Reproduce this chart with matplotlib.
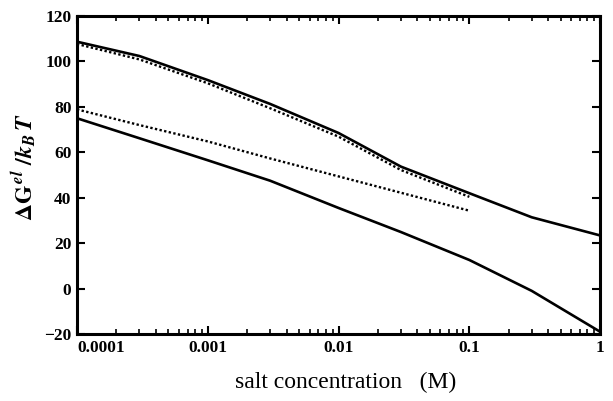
import numpy as np
import matplotlib.pyplot as plt
from matplotlib.ticker import FixedLocator, FixedFormatter, LogLocator, NullFormatter

plt.rcParams['font.family'] = ['Liberation Serif', 'DejaVu Serif']
plt.rcParams['mathtext.fontset'] = 'stix'

# salt concentration (M) at which the curves were evaluated
conc_full = [1e-4, 3e-4, 1e-3, 3e-3, 1e-2, 3e-2, 1e-1, 3e-1, 1.0]
conc_short = [1e-4, 3e-4, 1e-3, 3e-3, 1e-2, 3e-2, 1e-1]

# electrostatic free energy (kT)
upper_solid = [108.7, 102.4, 91.8, 81.3, 68.5, 53.7, 42.0, 31.4, 23.4]
upper_dotted = [107.7, 100.9, 90.4, 79.4, 66.9, 52.2, 40.4]
lower_dotted = [78.9, 72.0, 64.8, 57.3, 49.4, 42.2, 34.3]
lower_solid = [75.0, 66.2, 56.5, 47.5, 35.5, 24.9, 12.6, -1.0, -19.0]

xticks = [1e-4, 1e-3, 1e-2, 1e-1, 1.0]
xtick_labels = ["0.0001", "0.001", "0.01", "0.1", "1"]
yticks = [-20, 0, 20, 40, 60, 80, 100, 120]
ytick_labels = ["\u221220", "0", "20", "40", "60", "80", "100", "120"]

fig = plt.figure(figsize=(6.13, 4.01), dpi=100)
ax = fig.add_axes([0.1256, 0.167, 0.8534, 0.793])

ax.plot(conc_full, upper_solid, color='black', lw=1.9, solid_joinstyle='round')
ax.plot(conc_short, upper_dotted, color='black', lw=1.7, linestyle=(0, (1, 1)))
ax.plot(conc_short, lower_dotted, color='black', lw=1.7, linestyle=(0, (1, 1)))
ax.plot(conc_full, lower_solid, color='black', lw=1.9, solid_joinstyle='round')

ax.set_xscale('log')
ax.set_xlim(1e-4, 1.0)
ax.set_ylim(-20, 120)

ax.xaxis.set_major_locator(FixedLocator(xticks))
ax.xaxis.set_major_formatter(FixedFormatter(xtick_labels))
ax.xaxis.set_minor_locator(LogLocator(base=10, subs=np.arange(2, 10), numticks=20))
ax.xaxis.set_minor_formatter(NullFormatter())
ax.yaxis.set_major_locator(FixedLocator(yticks))
ax.yaxis.set_major_formatter(FixedFormatter(ytick_labels))

for s in ax.spines.values():
    s.set_linewidth(2.2)

ax.tick_params(which='major', direction='in', length=6, width=1.5,
               top=True, right=True, labelsize=12.5, pad=4)
ax.tick_params(axis='x', which='minor', direction='in', length=3.5, width=1.2,
               top=True, bottom=True)
for lab in ax.get_xticklabels() + ax.get_yticklabels():
    lab.set_fontweight('bold')
ax.get_xticklabels()[0].set_ha('left')

ax.set_xlabel("salt concentration   (M)", fontsize=17)
ax.xaxis.set_label_coords(0.513, -0.12)
ax.set_ylabel(r"$\mathbf{\Delta G}^{\,\mathbfit{el}}\ \mathbf{/}\mathbfit{k}_{\mathbfit{B}}\,\mathbfit{T}$",
              fontsize=17)
ax.yaxis.set_label_coords(-0.072, 0.525)

fig.savefig("out.png", dpi=100)
